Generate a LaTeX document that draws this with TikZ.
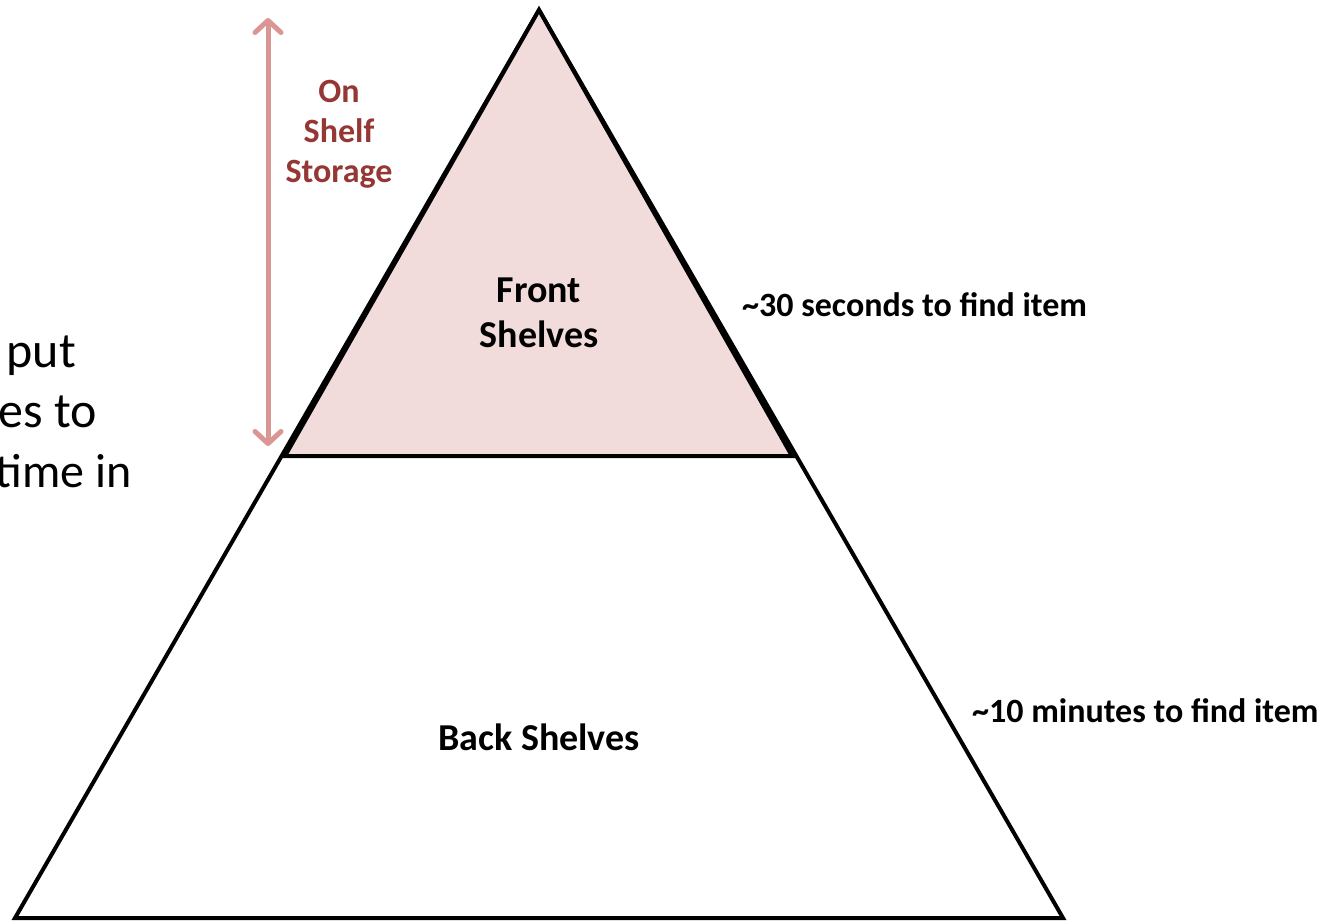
\documentclass[tikz,border=0pt]{standalone}
\usepackage{fontspec}
\setmainfont{Carlito}
\usetikzlibrary{arrows.meta}
\definecolor{frontfill}{HTML}{F2DCDB}
\definecolor{arrowcol}{HTML}{D99694}
\definecolor{storagecol}{HTML}{953735}
\tikzset{
  tri/.style={draw=black, line width=4pt, line join=miter},
  lbl/.style={font=\fontsize{38}{45}\selectfont\bfseries, align=center, inner sep=0pt},
  sidelbl/.style={font=\fontsize{34}{40}\selectfont\bfseries, anchor=west, inner sep=0pt},
  lefttxt/.style={font=\fontsize{50}{60}\selectfont, anchor=base east, inner sep=0pt},
  span/.style={draw=arrowcol, line width=5pt,
    {Straight Barb[length=12pt, width=26pt, round]}-{Straight Barb[length=12pt, width=26pt, round]}}
}
\begin{document}
\begin{tikzpicture}[x=1pt, y=-1pt]
\useasboundingbox (0,0) rectangle (1328,922);
% geometry
\coordinate (apex) at (539,10);
\coordinate (bl) at (15,918);
\coordinate (br) at (1063,918);
\coordinate (ml) at (285,456);
\coordinate (mr) at (792,456);
\coordinate (atop) at (268,18);
\coordinate (abot) at (268,446);
% back triangle
\draw[tri] (apex) -- (bl) -- (br) -- cycle;
% front triangle
\filldraw[tri, fill=frontfill] (apex) -- (ml) -- (mr) -- cycle;
% arrow
\draw[span] (abot) -- (atop);
% labels
\node[lbl, text=storagecol, font=\fontsize{34}{40}\selectfont\bfseries] (storage) at (339,134) {On\\Shelf\\Storage};
\node[lbl] (front) at (539,313) {Front\\Shelves};
\node[lbl] (back) at (539,737) {Back Shelves};
\node[sidelbl] (t30) at (742,305) {\textasciitilde30 seconds to find item};
\node[sidelbl] (t10) at (972,711) {\textasciitilde10 minutes to find item};
% cut-off text on the left (cut in the reference too)
\node[lefttxt] (l1) at (76,367) {put};
\node[lefttxt] (l2) at (97,427) {es to};
\node[lefttxt, font=\fontsize{48}{60}\selectfont] (l3) at (132,487) {time in};
\end{tikzpicture}
\end{document}
